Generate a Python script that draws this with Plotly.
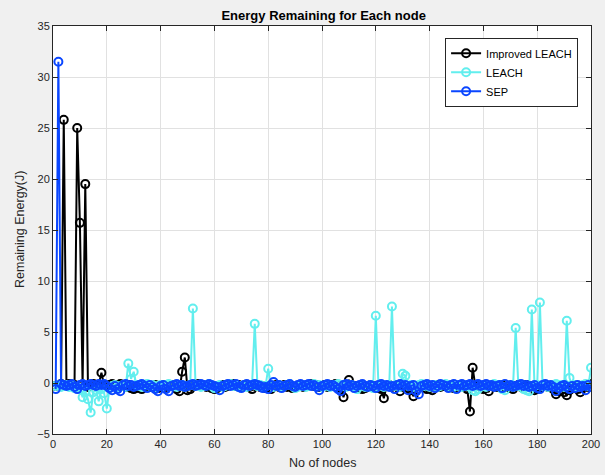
import plotly.graph_objects as go

nodes = list(range(1, 201))

improved_leach = [
    -0.3, -0.2, -0.1, 25.8, -0.2, -0.1, -0.3, -0.2, 25.0, 15.7, -0.2, 19.5, -0.4, -0.2, -0.1, -0.3, -0.2, 1.0, -0.2, -0.3,
    -0.2, -0.1, -0.3, -0.2, -0.1, -0.3, -0.4, -0.2, -0.5, -0.6, -0.5, -0.4, -0.6, -0.3, -0.2, -0.4, -0.3, -0.2, -0.5, -0.3,
    -0.2, -0.4, -0.3, -0.2, -0.3, -0.6, -0.8, 1.1, 2.5, -0.7, -0.6, -0.3, -0.2, -0.1, -0.3, -0.2, -0.4, -0.3, -0.5, -0.6,
    -0.5, -0.3, -0.2, -0.4, -0.3, -0.2, -0.1, -0.3, -0.2, -0.4, -0.3, -0.2, -0.4, -0.6, -0.3, -0.2, -0.4, -0.3, -0.5, -0.4,
    -0.6, -0.3, -0.2, -0.4, -0.3, -0.2, -0.4, -0.3, -0.5, -0.4, -0.3, -0.2, -0.4, -0.3, -0.2, -0.1, -0.3, -0.2, -0.4, -0.3,
    -0.2, -0.4, -0.3, -0.2, -0.1, -0.3, -0.5, -1.4, -0.3, 0.3, -0.2, -0.4, -0.3, -0.5, -0.6, -0.5, -0.3, -0.2, -0.4, -0.3,
    -0.5, -0.6, -1.5, -0.3, -0.2, -0.4, -0.3, -0.2, -0.8, -0.4, -0.3, -0.5, -0.7, -1.3, -0.4, -0.3, -0.2, -0.4, -0.6, -0.5,
    -0.7, -0.3, -0.2, -0.4, -0.3, -0.2, -0.4, -0.3, -0.5, -0.4, -0.3, -0.2, -0.4, -0.6, -2.8, 1.5, -0.3, -0.2, -0.4, -0.6,
    -0.5, -0.8, -0.3, -0.2, -0.4, -0.3, -0.2, -0.4, -0.3, -0.5, -0.6, -0.3, -0.2, -0.4, -0.3, -0.2, -0.4, -0.3, -0.7, -0.6,
    -0.5, -0.3, -0.2, -0.4, -0.3, -0.6, -1.1, -0.8, -0.4, -0.9, -1.2, -0.7, -0.5, -0.4, -0.6, -0.9, -0.5, -0.3, -0.4, -0.1,
]

leach = [
    -0.3, -0.2, -0.4, -0.3, -0.2, -0.4, -0.3, -0.5, -0.4, -0.6, -1.4, -0.8, -1.6, -2.9, -0.9, -0.7, -1.8, -0.6, -1.0, -2.5,
    -0.5, -0.3, -0.2, -0.4, -0.3, -0.2, -0.4, 1.9, 0.4, 1.1, -0.2, -0.3, -0.4, -0.2, -0.1, -0.3, -0.2, -0.4, -0.3, -0.2,
    -0.3, -0.2, -0.1, -0.3, -0.2, -0.4, -0.3, -0.2, -0.4, -0.3, -0.2, 7.3, -0.3, -0.2, -0.4, -0.3, -0.2, -0.1, -0.3, -0.5,
    -0.3, -0.2, -0.4, -0.3, -0.2, -0.1, -0.3, -0.2, -0.4, -0.3, -0.2, -0.4, -0.3, -0.2, 5.8, -0.3, -0.2, -0.4, -0.3, 1.4,
    -0.2, -0.4, -0.3, -0.2, -0.4, -0.3, -0.2, -0.1, -0.3, -0.5, -0.4, -0.3, -0.2, -0.4, -0.3, -0.2, -0.1, -0.3, -0.2, -0.4,
    -0.3, -0.2, -0.4, -0.3, -0.2, -0.1, -0.3, -0.2, -0.4, -0.3, -0.2, -0.4, -0.6, -0.3, -0.2, -0.4, -0.3, -0.2, -0.5, 6.6,
    -0.3, -0.2, -0.4, -0.3, -0.2, 7.5, -0.3, -0.2, -0.4, 0.9, 0.7, -0.3, -0.2, -0.4, -0.3, -0.2, -0.1, -0.3, -0.2, -0.4,
    -0.3, -0.2, -0.4, -0.3, -0.2, -0.1, -0.3, -0.2, -0.4, -0.3, -0.2, -0.4, -0.3, -0.2, -0.4, -0.7, -0.8, -0.6, -0.3, -0.2,
    -0.4, -0.3, -0.2, -0.1, -0.3, -0.2, -0.6, -0.7, -0.3, -0.2, -0.4, 5.4, -0.3, -0.2, -0.6, -0.7, -0.8, 7.2, -0.3, -0.2,
    7.9, -0.3, -0.2, -0.4, -0.3, -0.2, -0.1, -0.3, -0.2, -0.4, 6.1, 0.5, -0.3, -0.2, -0.4, -0.3, -0.2, -0.1, -0.3, 1.5,
]

sep = [
    -0.6, 31.5, -0.1, -0.2, -0.3, -0.2, -0.1, -0.4, -0.6, -0.2, -0.1, -0.3, -0.2, -0.1, -0.2, -0.3, -0.1, -0.2, -0.1, -0.3,
    -0.5, -0.7, -0.3, -0.6, -0.8, -0.2, -0.1, -0.3, -0.2, -0.4, -0.3, -0.2, -0.1, -0.3, -0.5, -0.2, -0.4, -0.6, -0.8, -0.3,
    -0.2, -0.6, -0.8, -0.3, -0.2, -0.1, -0.3, -0.2, -0.4, -0.3, -0.2, -0.1, -0.3, -0.2, -0.1, -0.2, -0.3, -0.1, -0.2, -0.3,
    -0.4, -0.7, -0.3, -0.2, -0.1, -0.3, -0.2, -0.1, -0.4, -0.5, -0.2, -0.1, -0.3, -0.2, -0.1, -0.2, -0.3, -0.5, -0.4, -0.6,
    -0.2, 0.1, -0.3, -0.2, -0.5, -0.3, -0.2, -0.1, -0.3, -0.4, -0.2, -0.1, -0.3, -0.2, -0.1, -0.3, -0.2, -0.4, -0.7, -0.3,
    -0.2, -0.1, -0.3, -0.2, -0.4, -0.6, -0.8, -0.2, -0.1, -0.3, -0.2, -0.5, -0.3, -0.2, -0.1, -0.3, -0.4, -0.2, -0.3, -0.5,
    -0.2, -0.1, -0.3, -0.2, -0.4, -0.3, -0.6, -0.2, -0.1, -0.3, -0.2, -0.7, -0.3, -0.2, -0.8, -1.1, -0.3, -0.2, -0.1, -0.3,
    -0.2, -0.5, -0.3, -0.1, -0.2, -0.3, -0.5, -0.2, -0.1, -0.6, -0.2, -0.1, -0.3, -0.2, -0.1, -0.3, -0.2, -0.1, -0.3, -0.2,
    -0.1, -0.3, -0.2, -0.4, -0.3, -0.2, -0.5, -0.1, -0.3, -0.2, -0.4, -0.3, -0.2, -0.1, -0.3, -0.2, -0.4, -0.3, -0.2, -0.5,
    -0.6, -0.2, -0.1, -0.3, -0.2, -0.4, -0.8, -0.5, -0.3, -0.2, -0.4, -0.6, -0.3, -0.5, -0.2, -0.4, -0.3, -0.7, -0.2, -0.4,
]

series_names = ["Improved LEACH", "LEACH", "SEP"]
series_values = [improved_leach, leach, sep]
series_colors = ["#000000", "#62eeee", "#0a46ff"]
x_title = "No of nodes"
y_title = "Remaining Energy(J)"

FONT = "Liberation Sans, Arial, Helvetica, sans-serif"

fig = go.Figure()
for name, vals, col in zip(series_names, series_values, series_colors):
    fig.add_trace(go.Scatter(
        x=nodes, y=vals, name=name, mode="lines+markers",
        line=dict(color=col, width=2),
        marker=dict(symbol="circle-open", size=8, color=col, line=dict(width=2, color=col)),
    ))

axis_common = dict(
    showgrid=True, gridcolor="#e1e1e1", gridwidth=1,
    showline=True, linecolor="#262626", linewidth=1, mirror="ticks",
    ticks="inside", ticklen=5, tickcolor="#262626",
    tickfont=dict(family=FONT, size=11, color="#262626"),
    zeroline=False, automargin=False,
)

fig.update_layout(
    width=605, height=475,
    paper_bgcolor="#f0f0f0", plot_bgcolor="#ffffff",
    margin=dict(l=53, r=14, t=26, b=41),
    title=dict(text="<b>Energy Remaining for Each node</b>", x=0.535, xanchor="center",
               y=1 - 15 / 475, yanchor="middle",
               font=dict(family=FONT, size=13, color="#000000")),
    font=dict(family=FONT, size=11, color="#262626"),
    showlegend=True,
    legend=dict(x=0.976, y=0.971, xanchor="right", yanchor="top",
                bgcolor="#ffffff", bordercolor="#262626", borderwidth=1,
                font=dict(family=FONT, size=11, color="#000000"),
                tracegroupgap=0, itemwidth=30),
    annotations=[
        dict(text=x_title, xref="paper", yref="paper", x=0.5, y=0, yshift=-29,
             xanchor="center", yanchor="middle", showarrow=False,
             font=dict(family=FONT, size=12.5, color="#262626")),
        dict(text=y_title, xref="paper", yref="paper", x=0, y=0.5, xshift=-33,
             xanchor="center", yanchor="middle", showarrow=False, textangle=-90,
             font=dict(family=FONT, size=12.5, color="#262626")),
    ],
)
fig.update_xaxes(range=[0, 200], dtick=20, tick0=0, **axis_common)
fig.update_yaxes(range=[-5, 35], dtick=5, tick0=-5, **axis_common)

fig.write_html("out.html")
